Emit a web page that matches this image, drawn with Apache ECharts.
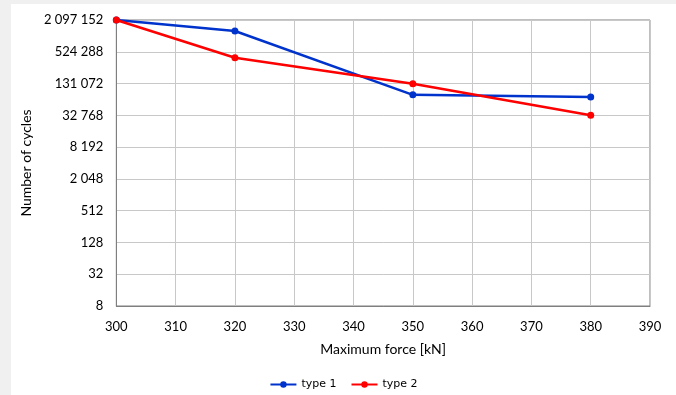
<!DOCTYPE html>
<html>
<head>
<meta charset="utf-8">
<script src="https://cdn.jsdelivr.net/npm/echarts@6/dist/echarts.min.js"></script>
<style>
  html, body { margin: 0; padding: 0; background: #f0f0f0; width: 676px; height: 395px; overflow: hidden; }
  #chart { position: absolute; left: 11px; top: 4px; width: 665px; height: 391px; background: #ffffff; }
</style>
</head>
<body>
<div id="chart"></div>
<script>
// Maximum force [kN]
const forces = [300, 320, 350, 380];
// Number of cycles
const type1Cycles = [2097152, 1300000, 80000, 73000];
const type2Cycles = [2097152, 405000, 130000, 33000];

const seriesNames = ['type 1', 'type 2'];

const fmtSpace = v => String(Math.round(v)).replace(/\B(?=(\d{3})+(?!\d))/g, ' ');

const chart = echarts.init(document.getElementById('chart'));

const labelFont = 'Lato, "Open Sans", sans-serif';

const option = {
  backgroundColor: '#ffffff',
  animation: false,
  grid: {
    left: 105,
    top: 16,
    right: 26,
    bottom: 89,
    show: true,
    borderColor: '#7f7f7f',
    borderWidth: 1
  },
  legend: {
    data: seriesNames,
    bottom: 0,
    left: 'center',
    itemWidth: 26,
    itemHeight: 8,
    itemGap: 14,
    textStyle: { fontFamily: 'DejaVu Sans, sans-serif', fontSize: 11, color: '#000' }
  },
  xAxis: {
    type: 'value',
    min: 300,
    max: 390,
    interval: 10,
    name: 'Maximum force [kN]',
    nameLocation: 'middle',
    nameGap: 36,
    nameTextStyle: { fontFamily: labelFont, fontSize: 14, color: '#000' },
    axisLine: { lineStyle: { color: '#7f7f7f', width: 1 } },
    axisTick: { show: false },
    axisLabel: { fontFamily: labelFont, fontSize: 13, color: '#000', margin: 14 },
    splitLine: { show: true, lineStyle: { color: '#c8c8c8', width: 1 } }
  },
  yAxis: {
    type: 'log',
    logBase: 2,
    min: 8,
    max: 2097152,
    interval: 2,
    name: 'Number of cycles',
    nameLocation: 'middle',
    nameGap: 77,
    nameTextStyle: { fontFamily: labelFont, fontSize: 14, color: '#000' },
    axisLine: { show: true, lineStyle: { color: '#7f7f7f', width: 1 } },
    axisTick: { show: false },
    minorTick: { show: false },
    axisLabel: {
      fontFamily: labelFont,
      fontSize: 13,
      color: '#000',
      margin: 13,
      formatter: v => fmtSpace(v)
    },
    splitLine: { show: true, lineStyle: { color: '#c8c8c8', width: 1 } }
  },
  series: [
    {
      name: seriesNames[0],
      type: 'line',
      data: forces.map((f, i) => [f, type1Cycles[i]]),
      symbol: 'circle',
      symbolSize: 7,
      lineStyle: { color: '#0033cc', width: 2.5 },
      itemStyle: { color: '#0033cc' }
    },
    {
      name: seriesNames[1],
      type: 'line',
      data: forces.map((f, i) => [f, type2Cycles[i]]),
      symbol: 'circle',
      symbolSize: 7,
      lineStyle: { color: '#ff0000', width: 2.5 },
      itemStyle: { color: '#ff0000' }
    }
  ]
};

chart.setOption(option);
</script>
</body>
</html>
